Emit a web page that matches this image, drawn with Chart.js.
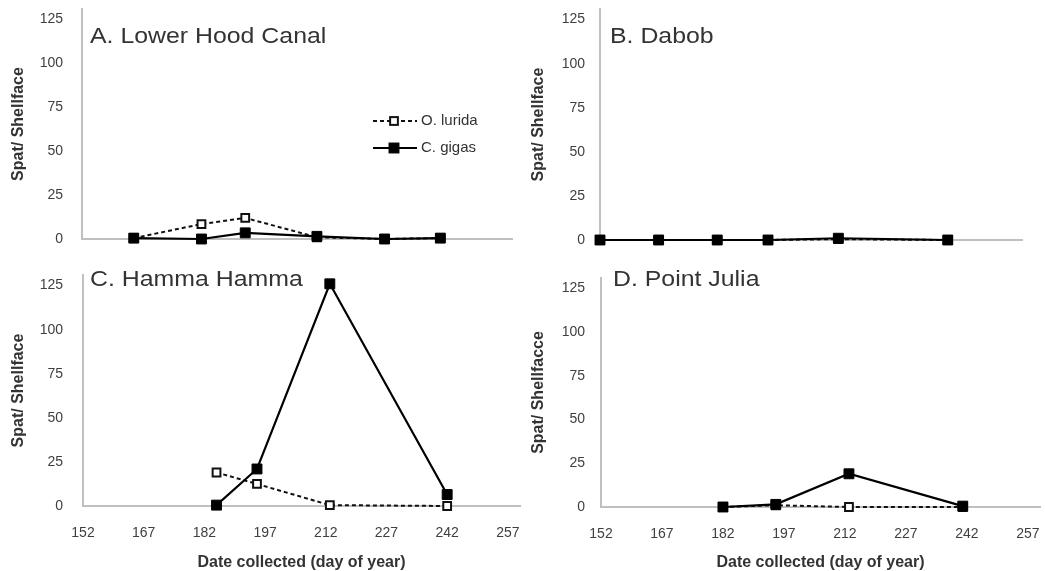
<!DOCTYPE html>
<html>
<head>
<meta charset="utf-8">
<script src="https://cdn.jsdelivr.net/npm/chart.js@4.4.1/dist/chart.umd.min.js"></script>
<style>
  body { margin: 0; background: #fff; width: 1045px; height: 571px; position: relative; overflow: hidden; }
  canvas { position: absolute; }
</style>
</head>
<body>
<canvas id="chartA" width="522" height="250" style="left:0;top:0"></canvas>
<canvas id="chartB" width="525" height="250" style="left:520px;top:0"></canvas>
<canvas id="chartC" width="522" height="311" style="left:0;top:260px"></canvas>
<canvas id="chartD" width="525" height="311" style="left:520px;top:260px"></canvas>
<script>
// day of year ticks and spat counts
const xTicks = [152, 167, 182, 197, 212, 227, 242, 257];
const yTicks = [0, 25, 50, 75, 100, 125];

const daysA = [165, 182, 193, 211, 228, 242];
const luridaA = [0.5, 8.5, 12, 1, 0, 0.5];
const gigasA = [0.5, 0, 3.5, 1.5, 0, 0.5];

const daysB = [152, 167, 182, 195, 213, 241];
const luridaB = [0, 0, 0, 0, 0.5, 0];
const gigasB = [0, 0, 0, 0, 1, 0];

const daysC = [185, 195, 213, 242];
const luridaC = [19, 12.5, 0.5, 0];
const gigasC = [0.5, 21, 126, 6.5];

const daysD = [182, 195, 213, 241];
const luridaD = [0, 1, 0, 0];
const gigasD = [0, 1.5, 19, 0.5];

const FONT = '"Liberation Sans", Arial, sans-serif';
Chart.defaults.font.family = FONT;
Chart.defaults.color = '#404040';

const toPoints = (xs, ys) => xs.map((x, i) => ({ x, y: ys[i] }));

// panel letter title and the legend (panel A only)
const panelText = {
  id: 'panelText',
  afterDraw(chart, args, opts) {
    const ctx = chart.ctx;
    ctx.save();
    ctx.font = '22px ' + FONT;
    ctx.fillStyle = '#333';
    ctx.textBaseline = 'alphabetic';
    ctx.translate(opts.x, opts.y);
    ctx.scale(1.13, 1);
    ctx.fillText(opts.text, 0, 0);
    ctx.restore();

    if (opts.legend) {
      ctx.save();
      ctx.font = '15px ' + FONT;
      ctx.textBaseline = 'middle';
      chart.data.datasets.forEach((ds, i) => {
        const y = opts.legend.y + i * 27;
        const x0 = opts.legend.x;
        ctx.strokeStyle = ds.borderColor;
        ctx.lineWidth = ds.borderWidth;
        ctx.setLineDash(ds.borderDash || []);
        ctx.beginPath();
        ctx.moveTo(x0, y);
        ctx.lineTo(x0 + 44, y);
        ctx.stroke();
        ctx.setLineDash([]);
        const s = ds.pointRadius * Math.SQRT1_2;
        ctx.fillStyle = ds.pointBackgroundColor;
        ctx.lineWidth = ds.pointBorderWidth;
        ctx.strokeStyle = ds.pointBorderColor;
        ctx.fillRect(x0 + 21 - s, y - s, 2 * s, 2 * s);
        ctx.strokeRect(x0 + 21 - s, y - s, 2 * s, 2 * s);
        ctx.fillStyle = '#333';
        ctx.fillText(ds.label, x0 + 48, y);
      });
      ctx.restore();
    }
  }
};

const makePanel = (id, cfg) => {
  const datasets = [
    {
      label: 'O. lurida',
      data: toPoints(cfg.days, cfg.lurida),
      showLine: true,
      borderColor: '#111',
      borderWidth: 2,
      borderDash: [4, 3],
      pointStyle: 'rect',
      pointRadius: 5.5,
      pointBorderWidth: 2,
      pointBorderColor: '#111',
      pointBackgroundColor: '#fff',
      order: 1,
      clip: false
    },
    {
      label: 'C. gigas',
      data: toPoints(cfg.days, cfg.gigas),
      showLine: true,
      borderColor: '#000',
      borderWidth: 2.2,
      pointStyle: 'rect',
      pointRadius: 7,
      pointBorderWidth: 1,
      pointBorderColor: '#000',
      pointBackgroundColor: '#000',
      order: 0,
      clip: false
    }
  ];

  new Chart(document.getElementById(id), {
    type: 'scatter',
    data: { datasets },
    plugins: [panelText],
    options: {
      responsive: false,
      animation: false,
      layout: {
        autoPadding: false,
        padding: { top: cfg.padTop, right: cfg.padRight, left: 0, bottom: 0 }
      },
      plugins: {
        legend: { display: false },
        tooltip: { enabled: false },
        panelText: cfg.text
      },
      scales: {
        x: {
          type: 'linear',
          min: 152,
          max: 260,
          grid: { display: false, drawTicks: false },
          border: { color: '#c0c0c0', width: 2 },
          ticks: { display: cfg.xLabels, padding: 19, font: { size: 14 } },
          title: {
            display: cfg.xLabels,
            text: 'Date collected (day of year)',
            font: { size: 16, weight: 'bold' },
            color: '#333',
            padding: { top: 0, bottom: -1 }
          },
          afterBuildTicks: (scale) => {
            scale.ticks = xTicks.map(v => ({ value: v }));
          },
          afterFit: (scale) => {
            scale.height = cfg.xHeight;
            scale.paddingLeft = 0;
            scale.paddingRight = 0;
          }
        },
        y: {
          min: 0,
          max: 131,
          grid: { display: false, drawTicks: false },
          border: { color: '#c0c0c0', width: 2 },
          ticks: { padding: cfg.yPad, font: { size: 14 } },
          title: {
            display: true,
            text: cfg.yTitle,
            font: { size: 16, weight: 'bold' },
            color: '#333',
            padding: { top: 9, bottom: 0 }
          },
          afterBuildTicks: (scale) => {
            scale.ticks = yTicks.map(v => ({ value: v }));
          },
          afterFit: (scale) => {
            scale.width = cfg.yWidth;
            scale.paddingTop = 0;
            scale.paddingBottom = 0;
          }
        }
      }
    }
  });
};

makePanel('chartA', {
  days: daysA, lurida: luridaA, gigas: gigasA,
  padTop: 9, padRight: 10, yWidth: 82, xHeight: 11, yPad: 19, xLabels: false,
  yTitle: 'Spat/ Shellface',
  text: { text: 'A. Lower Hood Canal', x: 90, y: 43, legend: { x: 373, y: 121 } }
});

makePanel('chartB', {
  days: daysB, lurida: luridaB, gigas: gigasB,
  padTop: 9, padRight: 23, yWidth: 80, xHeight: 10, yPad: 15, xLabels: false,
  yTitle: 'Spat/ Shellface',
  text: { text: 'B. Dabob', x: 90, y: 43 }
});

makePanel('chartC', {
  days: daysC, lurida: luridaC, gigas: gigasC,
  padTop: 15, padRight: 2, yWidth: 83, xHeight: 65, yPad: 20, xLabels: true,
  yTitle: 'Spat/ Shellface',
  text: { text: 'C. Hamma Hamma', x: 90, y: 26 }
});

makePanel('chartD', {
  days: daysD, lurida: luridaD, gigas: gigasD,
  padTop: 18, padRight: 5, yWidth: 81, xHeight: 64, yPad: 16, xLabels: true,
  yTitle: 'Spat/ Shellfacce',
  text: { text: 'D. Point Julia', x: 93, y: 26 }
});
</script>
</body>
</html>
